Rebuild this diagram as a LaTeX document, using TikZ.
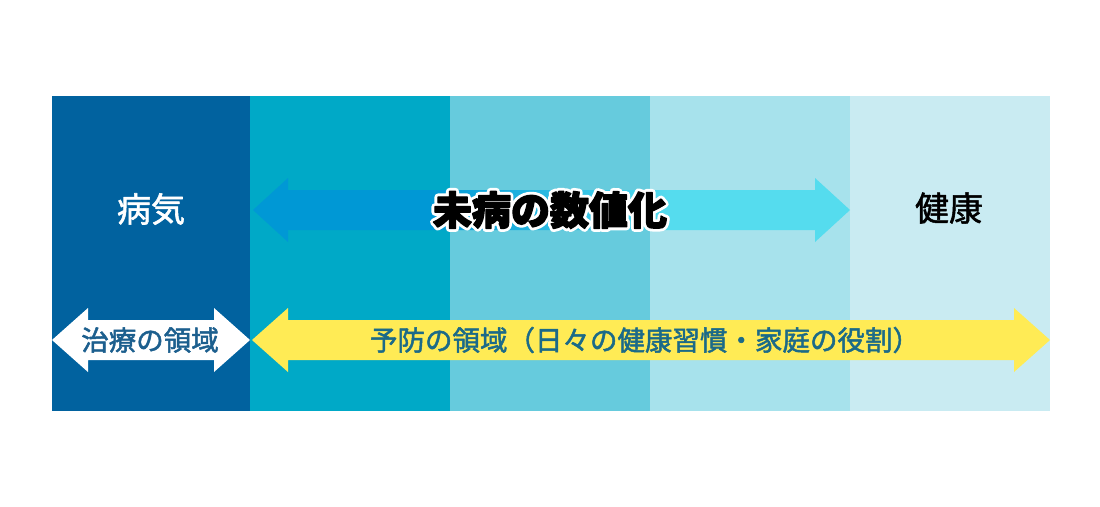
\documentclass[tikz,border=0pt]{standalone}
\usepackage{fontspec}
\usepackage{tikz}
\newfontfamily\jp{Noto Sans CJK JP}

\definecolor{bandA}{HTML}{01629F}
\definecolor{bandB}{HTML}{00A9C7}
\definecolor{bandC}{HTML}{66CBDD}
\definecolor{bandD}{HTML}{A7E2EC}
\definecolor{bandE}{HTML}{C9EBF2}
\definecolor{arrowL}{HTML}{0098D5}
\definecolor{arrowR}{HTML}{55DCEE}
\definecolor{prevent}{HTML}{FFEB55}
\definecolor{treatText}{HTML}{1C5F8E}
\definecolor{preventText}{HTML}{1B6A88}

\pgfdeclarehorizontalshading{mibyo}{100bp}{color(0bp)=(arrowL); color(40bp)=(arrowL); color(60bp)=(arrowR); color(100bp)=(arrowR)}

% stroke the glyphs as well, to thicken them
\newcommand{\thicker}[2]{\special{pdf:code q 2 Tr #1 w 1 j}#2\special{pdf:code Q}}
% white rim behind heavy text
\newcommand{\rimmed}[1]{\special{pdf:code q 2 Tr 7 w 1 j 1 1 1 RG 1 1 1 rg}\rlap{#1}\special{pdf:code Q}\thicker{1.4}{#1}}

\begin{document}
\begin{tikzpicture}[x=1pt, y=-1pt, font=\jp,
    band/.style={anchor=north west, inner sep=0pt, minimum height=315pt, minimum width=200pt},
    big label/.style={font=\jp\fontsize{34}{34}\selectfont},
    small label/.style={font=\jp\fontsize{27.5}{27.5}\selectfont},
    title label/.style={font=\jp\bfseries\fontsize{39}{39}\selectfont}]
    \useasboundingbox (0,0) rectangle (1100,506);

    % columns
    \node[band, fill=bandA, minimum width=198pt] (b1) at (52,96) {};
    \node[band, fill=bandB] (b2) at (250,96) {};
    \node[band, fill=bandC] (b3) at (450,96) {};
    \node[band, fill=bandD] (b4) at (650,96) {};
    \node[band, fill=bandE] (b5) at (850,96) {};

    % top arrow
    \shade[shading=mibyo] (253,210) -- (288,178) -- (288,190) -- (815,190) -- (815,178)
        -- (850,210) -- (815,242) -- (815,230) -- (288,230) -- (288,242) -- cycle;

    % bottom arrows
    \fill[white] (52,340) -- (88,308) -- (88,320) -- (214,320) -- (214,308)
        -- (250,340) -- (214,372) -- (214,360) -- (88,360) -- (88,372) -- cycle;
    \fill[prevent] (252,340) -- (288,308) -- (288,320) -- (1014,320) -- (1014,308)
        -- (1050,340) -- (1014,372) -- (1014,360) -- (288,360) -- (288,372) -- cycle;

    \node[big label, white] (sick) at (151,209) {\thicker{0.6}{病気}};
    \node[big label, black] (healthy) at (949,208) {\thicker{0.5}{健康}};

    \node[title label, black] (title) at (550,210) {\rimmed{未病の数値化}};

    \node[small label, treatText] (treat) at (150,340) {\thicker{0.5}{治療の領域}};
    \node[small label, preventText] (prev) at (645,340) {\thicker{0.5}{予防の領域（日々の健康習慣・家庭の役割）}};

\end{tikzpicture}
\end{document}
